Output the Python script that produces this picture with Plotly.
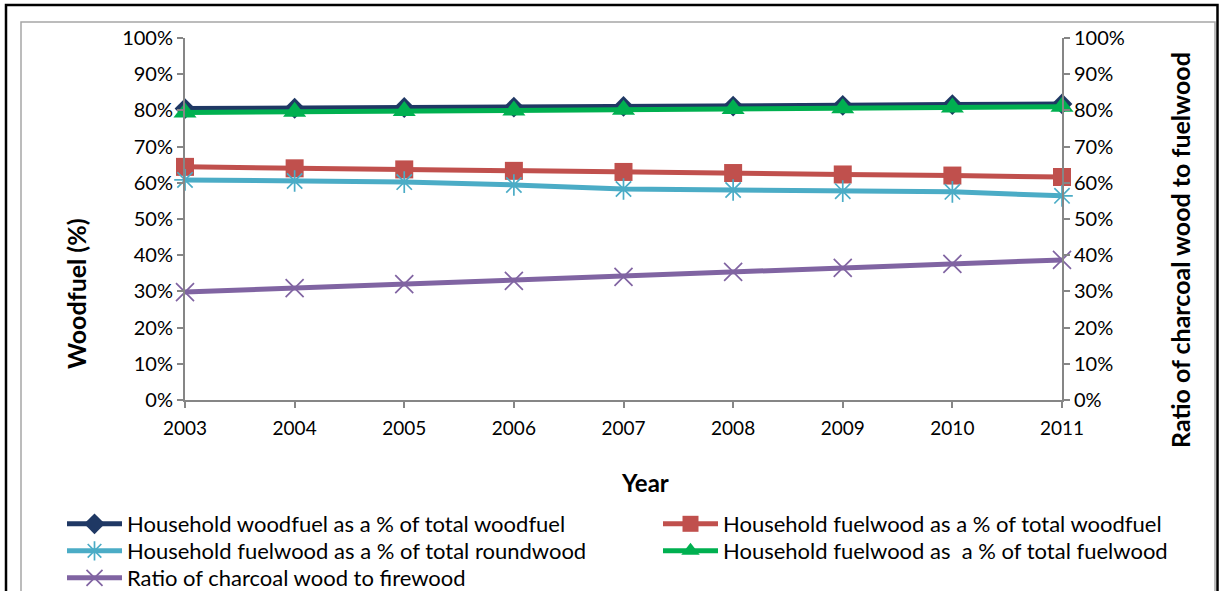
import plotly.graph_objects as go

# Years and series (percent)
years = [2003, 2004, 2005, 2006, 2007, 2008, 2009, 2010, 2011]
hh_woodfuel_pct_woodfuel = [80.5, 80.6, 80.8, 80.9, 81.1, 81.2, 81.4, 81.6, 81.8]
hh_fuelwood_pct_woodfuel = [64.4, 64.0, 63.7, 63.3, 63.0, 62.7, 62.3, 62.0, 61.6]
hh_fuelwood_pct_roundwood = [60.8, 60.5, 60.2, 59.4, 58.3, 58.0, 57.7, 57.5, 56.4]
hh_fuelwood_pct_fuelwood = [79.4, 79.6, 79.8, 80.0, 80.2, 80.4, 80.6, 80.8, 81.0]
ratio_charcoal_firewood = [29.8, 30.9, 32.0, 32.9, 34.0, 35.4, 36.5, 37.6, 38.7]

y_ticks = list(range(0, 101, 10))
y_tick_labels = [f"{v}%" for v in y_ticks]

W, H = 1223, 591
L, R, T, B = 185, 1062, 38, 400  # plot area in pixels
FONT = "Lato"
AXIS_GRAY = "#868686"


def px_x(p):
    return (p - L) / (R - L)


def px_y(p):
    return (B - p) / (B - T)


# name, values, colour, marker symbol, marker size, y axis,
# legend id, legend left edge (px), legend row centre (px)
series = [
    ("Household woodfuel as a % of total woodfuel", hh_woodfuel_pct_woodfuel,
     "#1F3864", "diamond", 16, "y", "legend", 62, 524),
    ("Household fuelwood as a % of total woodfuel", hh_fuelwood_pct_woodfuel,
     "#C0504D", "square", 18, "y", "legend2", 658, 524),
    ("Household fuelwood as a % of total roundwood", hh_fuelwood_pct_roundwood,
     "#4BACC6", "asterisk-open", 18, "y", "legend3", 62, 551),
    ("Household fuelwood as  a % of total fuelwood", hh_fuelwood_pct_fuelwood,
     "#00B050", "triangle-up", 20, "y", "legend4", 658, 551),
    ("Ratio of charcoal wood to firewood", ratio_charcoal_firewood,
     "#8064A2", "x-thin-open", 18, "y2", "legend5", 62, 578),
]

legend_common = dict(
    orientation="v", xanchor="left", yanchor="middle",
    font=dict(family=FONT, size=22, color="black"),
    itemwidth=55, tracegroupgap=0, bgcolor="rgba(0,0,0,0)",
)

fig = go.Figure()
legends = {}
for name, vals, color, symbol, size, yaxis, leg, lx, ly in series:
    open_sym = symbol.endswith("open")
    fig.add_trace(go.Scatter(
        x=years, y=vals, name=name, mode="lines+markers", yaxis=yaxis,
        legend=leg,
        line=dict(color=color, width=5),
        marker=dict(symbol=symbol, size=size, color=color,
                    line=dict(color=color, width=1.7 if open_sym else 0)),
        cliponaxis=False,
    ))
    legends[leg] = dict(**legend_common, x=px_x(lx), y=px_y(ly))

axis_common = dict(
    range=[0, 100], tickvals=y_ticks, ticktext=y_tick_labels,
    showgrid=False, zeroline=False, showline=True, linecolor=AXIS_GRAY,
    linewidth=2, ticks="outside", ticklen=6, tickcolor=AXIS_GRAY, tickwidth=2,
    tickfont=dict(family=FONT, size=20, color="black"),
)

fig.update_layout(
    width=W, height=H,
    margin=dict(l=L, r=W - R, t=T, b=H - B, autoexpand=False),
    paper_bgcolor="white", plot_bgcolor="white",
    font=dict(family=FONT, color="black"),
    xaxis=dict(
        range=[2003, 2011], tickvals=years, ticktext=[str(y) for y in years],
        showgrid=False, zeroline=False, showline=True, linecolor=AXIS_GRAY,
        linewidth=2, ticks="outside", ticklen=6, tickcolor=AXIS_GRAY,
        tickwidth=2, ticklabelstandoff=4,
        tickfont=dict(family=FONT, size=19, color="black"),
    ),
    yaxis=dict(**axis_common),
    yaxis2=dict(**axis_common, overlaying="y", side="right"),
    showlegend=True,
    **legends,
)

annotations = [
    dict(text="<b>Woodfuel (%)</b>", x=px_x(76), y=px_y(294), textangle=-90,
         font=dict(size=25)),
    dict(text="<b>Ratio of charcoal wood to fuelwood</b>", x=px_x(1180),
         y=px_y(250), textangle=-90, font=dict(size=25)),
    dict(text="<b>Year</b>", x=px_x(645), y=px_y(483), font=dict(size=24)),
]
for a in annotations:
    a.update(xref="paper", yref="paper", showarrow=False,
             xanchor="center", yanchor="middle")
    a["font"].update(family=FONT, color="black")
fig.update_layout(annotations=annotations)

# chart frame: outer black border and inner gray chart-area border
fig.add_shape(type="rect", xref="paper", yref="paper",
              x0=px_x(6), x1=px_x(1217.5), y0=px_y(610), y1=px_y(5),
              line=dict(color="black", width=2.5), layer="below")
fig.add_shape(type="rect", xref="paper", yref="paper",
              x0=px_x(21), x1=px_x(1215), y0=px_y(610), y1=px_y(22),
              line=dict(color="#A6A6A6", width=1.5), layer="below")

fig.write_html("out.html")
